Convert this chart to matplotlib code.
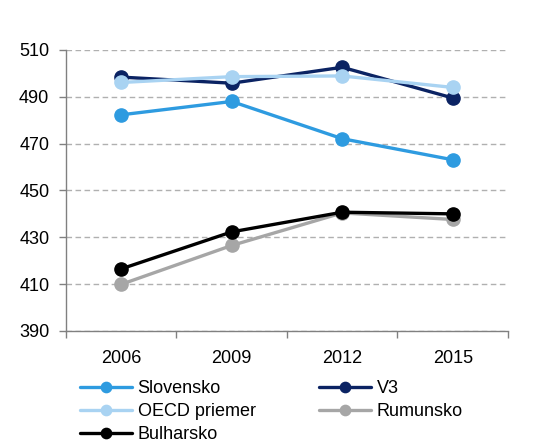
import matplotlib
matplotlib.use("Agg")
import matplotlib.pyplot as plt
from matplotlib.ticker import FixedLocator
from matplotlib import font_manager

years = ["2006", "2009", "2012", "2015"]
slovensko = [482.3, 488.0, 472.1, 463.1]
v3 = [498.4, 495.8, 502.6, 489.5]
oecd = [496.1, 498.6, 498.9, 494.0]
rumunsko = [409.9, 426.5, 440.4, 437.6]
bulharsko = [416.5, 432.3, 440.7, 440.0]

names = ["Slovensko", "V3", "OECD priemer", "Rumunsko", "Bulharsko"]
colors = ["#2e9be0", "#0b2363", "#a9d3f2", "#a6a6a6", "#000000"]
series = [slovensko, v3, oecd, rumunsko, bulharsko]

avail = {f.name for f in font_manager.fontManager.ttflist}
fam = "Liberation Sans Narrow" if "Liberation Sans Narrow" in avail else "Liberation Sans"
plt.rcParams["font.family"] = [fam, "DejaVu Sans"]

fig = plt.figure(figsize=(5.39, 4.46), dpi=100)
ax = fig.add_axes([0.1224, 0.258, 0.82, 0.63])

x = list(range(len(years)))
handles = []
for s, n, c in zip(series, names, colors):
    h, = ax.plot(x, s, color=c, lw=2.4, marker="o", markersize=9.5, label=n,
                 solid_capstyle="round")
    handles.append(h)

ax.set_xlim(-0.5, len(years) - 0.5)
ax.set_ylim(390, 510)
ax.set_yticks(range(390, 511, 20))
ax.set_xticks(x)
ax.set_xticklabels(years)
ax.xaxis.set_minor_locator(FixedLocator([i - 0.5 for i in range(len(years) + 1)]))
ax.tick_params(axis="x", which="major", length=0, pad=14, labelsize=13)
ax.tick_params(axis="x", which="minor", length=5, width=1, color="#808080", direction="out")
ax.tick_params(axis="y", length=5, width=1, color="#808080", direction="out", pad=7, labelsize=13)

for sp in ["top", "right"]:
    ax.spines[sp].set_visible(False)
for sp in ["left", "bottom"]:
    ax.spines[sp].set_color("#808080")
    ax.spines[sp].set_linewidth(1)

ax.grid(axis="y", color="#b0b0b0", linestyle=(0, (4, 2.5)), linewidth=1)
ax.set_axisbelow(True)

order = [0, 2, 4, 1, 3]
fig.legend([handles[i] for i in order], [names[i] for i in order],
           ncol=2, loc="upper left", bbox_to_anchor=(0.148, 0.148), frameon=False,
           fontsize=13, handlelength=2.9, handletextpad=0.3, columnspacing=3.5,
           labelspacing=0.33, borderaxespad=0, borderpad=0, markerscale=0.78)

fig.savefig("out.png", dpi=100)
